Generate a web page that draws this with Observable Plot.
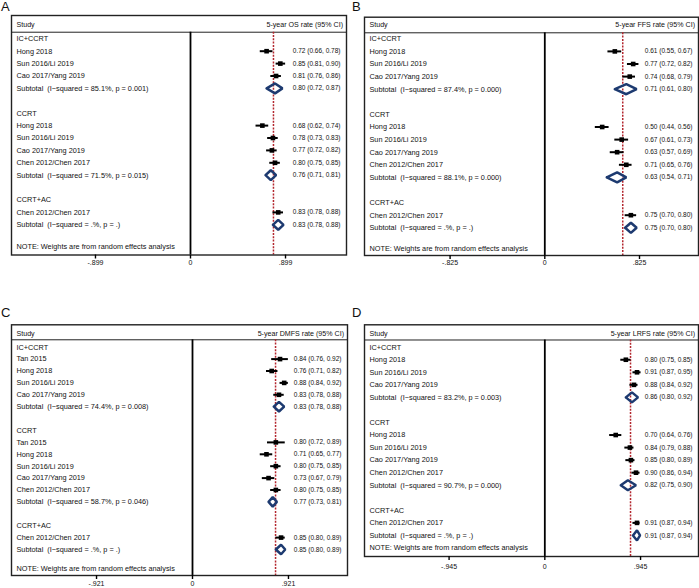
<!DOCTYPE html>
<html><head><meta charset="utf-8">
<script src="https://cdn.jsdelivr.net/npm/d3@7"></script>
<script src="https://cdn.jsdelivr.net/npm/@observablehq/plot@0.6"></script>
<style>
body{margin:0;background:#fff;}
#wrap{position:relative;width:699px;height:588px;overflow:hidden;background:#fff;font-family:"Liberation Sans",Arial,sans-serif;}
.panel{position:absolute;}
.letter{position:absolute;font-size:13px;color:#111;line-height:1;font-family:"Liberation Sans",Arial,sans-serif;}
</style></head><body><div id="wrap"></div>
<script>
// ---------- Data ----------
const panelIds = ["A", "B", "C", "D"];
const columnTitles = ["5-year OS rate (95% CI)", "5-year FFS rate (95% CI)", "5-year DMFS rate (95% CI)", "5-year LRFS rate (95% CI)"];
const noteText = "NOTE: Weights are from random effects analysis";

const labelsA = ["IC+CCRT","Hong 2018","Sun 2016/Li 2019","Cao 2017/Yang 2019","Subtotal\u00a0 (I\u2212squared = 85.1%, p = 0.001)","",
  "CCRT","Hong 2018","Sun 2016/Li 2019","Cao 2017/Yang 2019","Chen 2012/Chen 2017","Subtotal\u00a0 (I\u2212squared = 71.5%, p = 0.015)","",
  "CCRT+AC","Chen 2012/Chen 2017","Subtotal\u00a0 (I\u2212squared = .%, p = .)"];
const estA  = [null,0.72,0.85,0.81,0.80,null, null,0.68,0.78,0.77,0.80,0.76,null, null,0.83,0.83];
const lowA  = [null,0.66,0.81,0.76,0.72,null, null,0.62,0.73,0.72,0.75,0.71,null, null,0.78,0.78];
const highA = [null,0.78,0.90,0.86,0.87,null, null,0.74,0.83,0.82,0.85,0.81,null, null,0.88,0.88];

const labelsB = ["IC+CCRT","Hong 2018","Sun 2016/Li 2019","Cao 2017/Yang 2019","Subtotal\u00a0 (I\u2212squared = 87.4%, p = 0.000)","",
  "CCRT","Hong 2018","Sun 2016/Li 2019","Cao 2017/Yang 2019","Chen 2012/Chen 2017","Subtotal\u00a0 (I\u2212squared = 88.1%, p = 0.000)","",
  "CCRT+AC","Chen 2012/Chen 2017","Subtotal\u00a0 (I\u2212squared = .%, p = .)"];
const estB  = [null,0.61,0.77,0.74,0.71,null, null,0.50,0.67,0.63,0.71,0.63,null, null,0.75,0.75];
const lowB  = [null,0.55,0.72,0.68,0.61,null, null,0.44,0.61,0.57,0.65,0.54,null, null,0.70,0.70];
const highB = [null,0.67,0.82,0.79,0.80,null, null,0.56,0.73,0.69,0.76,0.71,null, null,0.80,0.80];

const labelsC = ["IC+CCRT","Tan 2015","Hong 2018","Sun 2016/Li 2019","Cao 2017/Yang 2019","Subtotal\u00a0 (I\u2212squared = 74.4%, p = 0.008)","",
  "CCRT","Tan 2015","Hong 2018","Sun 2016/Li 2019","Cao 2017/Yang 2019","Chen 2012/Chen 2017","Subtotal\u00a0 (I\u2212squared = 58.7%, p = 0.046)","",
  "CCRT+AC","Chen 2012/Chen 2017","Subtotal\u00a0 (I\u2212squared = .%, p = .)"];
const estC  = [null,0.84,0.76,0.88,0.83,0.83,null, null,0.80,0.71,0.80,0.73,0.80,0.77,null, null,0.85,0.85];
const lowC  = [null,0.76,0.71,0.84,0.78,0.78,null, null,0.72,0.65,0.75,0.67,0.75,0.73,null, null,0.80,0.80];
const highC = [null,0.92,0.82,0.92,0.88,0.88,null, null,0.89,0.77,0.85,0.79,0.85,0.81,null, null,0.89,0.89];

const labelsD = ["IC+CCRT","Hong 2018","Sun 2016/Li 2019","Cao 2017/Yang 2019","Subtotal\u00a0 (I\u2212squared = 83.2%, p = 0.003)","",
  "CCRT","Hong 2018","Sun 2016/Li 2019","Cao 2017/Yang 2019","Chen 2012/Chen 2017","Subtotal\u00a0 (I\u2212squared = 90.7%, p = 0.000)","",
  "CCRT+AC","Chen 2012/Chen 2017","Subtotal\u00a0 (I\u2212squared = .%, p = .)"];
const estD  = [null,0.80,0.91,0.88,0.86,null, null,0.70,0.84,0.85,0.90,0.82,null, null,0.91,0.91];
const lowD  = [null,0.75,0.87,0.84,0.80,null, null,0.64,0.79,0.80,0.86,0.75,null, null,0.87,0.87];
const highD = [null,0.85,0.95,0.92,0.92,null, null,0.76,0.88,0.89,0.94,0.90,null, null,0.94,0.94];

// overall (reference) lines
const overallRates = [0.785, 0.679, 0.797, 0.846];
// x-axis ticks
const tickValues = [[-0.899, 0, 0.899], [-0.825, 0, 0.825], [-0.921, 0, 0.921], [-0.945, 0, 0.945]];
const tickLabels = [["-.899", "0", ".899"], ["-.825", "0", ".825"], ["-.921", "0", ".921"], ["-.945", "0", ".945"]];

// ---------- Layout (not data) ----------
const layouts = [
  {left: 0,   top: 0,   width: 350, height: 276, mL: 11, mR: 4, mT: 15,   mB: 21.5, xd: [-1.6935, 1.476], yTop: -1.879, yBot: 17.435, header: -1.153, headerLine: -0.532, note: 16.8, pad: 1},
  {left: 350, top: 0,   width: 349, height: 276, mL: 14, mR: 1, mT: 16.7, mB: 21,   xd: [-1.5706, 1.3389], yTop: -1.714, yBot: 17.198, header: -1.135, headerLine: -0.476, note: 16.67, pad: 0.5},
  {left: 0,   top: 300, width: 350, height: 288, mL: 11, mR: 3, mT: 24.3, mB: 13,   xd: [-1.737, 1.4875], yTop: -1.882, yBot: 19.185, header: -1.126, headerLine: -0.622, note: 18.57, pad: 1.5},
  {left: 350, top: 300, width: 349, height: 288, mL: 14, mR: 1, mT: 24.3, mB: 32,   xd: [-1.780, 1.517], yTop: -1.785, yBot: 16.68, header: -1.068, headerLine: -0.574, note: 16.0, pad: 3.5}
];
const letterPos = [[1, 0], [352, 0], [1, 306], [352, 306]];

const panelData = [
  [labelsA, estA, lowA, highA],
  [labelsB, estB, lowB, highB],
  [labelsC, estC, lowC, highC],
  [labelsD, estD, lowD, highD]
];

const FONT = '"Liberation Sans", Arial, Helvetica, sans-serif';
const LABEL_SIZE = 7.3, EST_SIZE = 6.5, HEAD_SIZE = 7.1;
const fmt = d3.format(".2f");
const wrap = document.getElementById("wrap");

panelIds.forEach((id, p) => {
  const [labels, est, low, high] = panelData[p];
  const L = layouts[p];
  const rows = labels.map((label, i) => ({
    row: i, label, est: est[i], lo: low[i], hi: high[i],
    kind: est[i] == null ? "text" : (label.startsWith("Subtotal") ? "sub" : "study")
  }));
  const studies = rows.filter(d => d.kind === "study");
  const subs = rows.filter(d => d.kind === "sub");
  const withEst = rows.filter(d => d.est != null);
  const h = 0.4;
  const diamond = subs.flatMap(d => [
    {id: d.row, x: d.lo, y: d.row},
    {id: d.row, x: d.est, y: d.row - h},
    {id: d.row, x: d.hi, y: d.row},
    {id: d.row, x: d.est, y: d.row + h},
    {id: d.row, x: d.lo, y: d.row}
  ]);
  const tickMap = new Map(tickValues[p].map((v, i) => [v, tickLabels[p][i]]));

  const chart = Plot.plot({
    width: L.width, height: L.height,
    marginLeft: L.mL, marginRight: L.mR, marginTop: L.mT, marginBottom: L.mB,
    style: {fontFamily: FONT, fontSize: "7px", background: "transparent", color: "#111", overflow: "visible"},
    x: {domain: L.xd},
    y: {domain: [L.yBot, L.yTop], axis: null},
    marks: [
      Plot.ruleY([L.headerLine], {stroke: "#222", strokeWidth: 1}),
      Plot.ruleX([0], {y1: L.headerLine, y2: L.yBot, stroke: "#000", strokeWidth: 1.8}),
      Plot.ruleX([overallRates[p]], {y1: L.headerLine, y2: L.yBot, stroke: "#b3262e", strokeWidth: 1.5, strokeDasharray: "2,1.3"}),
      Plot.ruleY(studies, {y: "row", x1: "lo", x2: "hi", stroke: "#000", strokeWidth: 2}),
      Plot.dot(studies, {x: "est", y: "row", symbol: "square", r: 2.6, fill: "#000", stroke: "none"}),
      Plot.line(diamond, {x: "x", y: "y", z: "id", stroke: "#1d3a70", strokeWidth: 2.5, strokeLinejoin: "miter", curve: "linear"}),
      Plot.text(rows.filter(d => d.label), {y: "row", text: "label", frameAnchor: "left", textAnchor: "start", dx: 5, fontSize: LABEL_SIZE, fill: "#111"}),
      Plot.text(withEst, {y: "row", text: d => `${fmt(d.est)} (${fmt(d.lo)}, ${fmt(d.hi)})`, frameAnchor: "right", textAnchor: "end", dx: -6, fontSize: EST_SIZE, fill: "#111"}),
      Plot.text([{row: L.header, t: "Study"}], {y: "row", text: "t", frameAnchor: "left", textAnchor: "start", dx: 5, fontSize: HEAD_SIZE, fill: "#111"}),
      Plot.text([{row: L.header, t: columnTitles[p]}], {y: "row", text: "t", frameAnchor: "right", textAnchor: "end", dx: -3.5, fontSize: HEAD_SIZE, fill: "#111"}),
      Plot.text([{row: L.note, t: noteText}], {y: "row", text: "t", frameAnchor: "left", textAnchor: "start", dx: 5, fontSize: LABEL_SIZE, fill: "#111"}),
      Plot.frame({stroke: "#222", strokeWidth: 1.4}),
      Plot.axisX(tickValues[p], {tickFormat: d => tickMap.get(d), tickSize: 4, tickPadding: L.pad, fontSize: 7, stroke: "#000", strokeWidth: 1.4, fill: "#111"})
    ]
  });
  chart.classList.add("panel");
  chart.style.left = L.left + "px";
  chart.style.top = L.top + "px";
  wrap.appendChild(chart);

  const letter = document.createElement("div");
  letter.className = "letter";
  letter.textContent = id;
  letter.style.left = letterPos[p][0] + "px";
  letter.style.top = letterPos[p][1] + "px";
  wrap.appendChild(letter);
});
</script>
</body></html>
